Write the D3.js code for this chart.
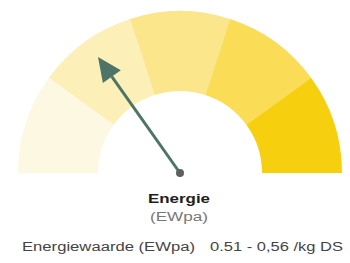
<!DOCTYPE html>
<html>
<head>
<meta charset="utf-8">
<script src="https://cdn.jsdelivr.net/npm/d3@7"></script>
<style>
  body { margin: 0; background: #fff; }
  svg { display: block; font-family: "Liberation Sans", Arial, sans-serif; }
</style>
</head>
<body>
<script>
// gauge bands, low to high
const bands = [0, 1, 2, 3, 4];
const bandColors = ["#fdf8e1", "#fcefb7", "#fbe68b", "#fadc56", "#f6cf0f"];
const needleValue = 1.52;
const title = "Energie";
const subtitle = "(EWpa)";
const labelText = "Energiewaarde (EWpa)";
const rangeText = "0.51 - 0,56 /kg DS";

const w = 350, h = 263;
const cx = 180, cy = 173;
const outerR = 162, innerR = 82;

const svg = d3.select("body").append("svg")
  .attr("width", w)
  .attr("height", h);

// value -> angle (radians, 0 = straight up)
const angle = d3.scaleLinear()
  .domain([0, bands.length])
  .range([-Math.PI / 2, Math.PI / 2]);

const arc = d3.arc()
  .innerRadius(innerR)
  .outerRadius(outerR)
  .startAngle(d => angle(d))
  .endAngle(d => angle(d + 1));

const g = svg.append("g")
  .attr("transform", "translate(" + cx + "," + cy + ")");

g.selectAll("path.band")
  .data(bands)
  .enter()
  .append("path")
  .attr("class", "band")
  .attr("d", arc)
  .attr("fill", (d, i) => bandColors[i]);

// needle
const a = angle(needleValue);
const tipR = 142;
const tx = tipR * Math.sin(a), ty = -tipR * Math.cos(a);
const headLen = 24, headW = 11;
const bx = (tipR - headLen) * Math.sin(a), by = -(tipR - headLen) * Math.cos(a);
const px = Math.cos(a), py = Math.sin(a);

g.append("line")
  .attr("x1", 0).attr("y1", 0)
  .attr("x2", bx).attr("y2", by)
  .attr("stroke", "#4e7468")
  .attr("stroke-width", 3);

g.append("path")
  .attr("d", d3.line()([[tx, ty], [bx + px * headW, by + py * headW], [bx - px * headW, by - py * headW]]) + "Z")
  .attr("fill", "#4e7468");

g.append("circle")
  .attr("r", 4)
  .attr("fill", "#5b615e");

// labels (the source font runs wide, so stretch to the measured widths)
svg.append("text")
  .attr("x", 148).attr("y", 203)
  .attr("font-size", 13)
  .attr("font-weight", "bold")
  .attr("fill", "#1e1e1e")
  .attr("textLength", 62)
  .attr("lengthAdjust", "spacingAndGlyphs")
  .text(title);

svg.append("text")
  .attr("x", 150).attr("y", 221)
  .attr("font-size", 12)
  .attr("fill", "#777")
  .attr("textLength", 58)
  .attr("lengthAdjust", "spacingAndGlyphs")
  .text(subtitle);

svg.append("text")
  .attr("x", 22).attr("y", 251)
  .attr("font-size", 12)
  .attr("fill", "#444")
  .attr("textLength", 173)
  .attr("lengthAdjust", "spacingAndGlyphs")
  .text(labelText);

svg.append("text")
  .attr("x", 210).attr("y", 251)
  .attr("font-size", 12)
  .attr("fill", "#444")
  .attr("textLength", 133)
  .attr("lengthAdjust", "spacingAndGlyphs")
  .text(rangeText);
</script>
</body>
</html>
